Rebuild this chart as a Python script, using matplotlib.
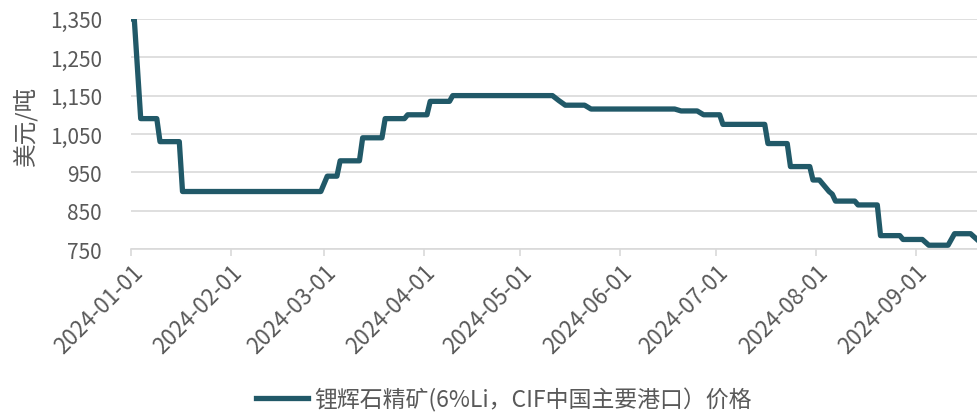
"""Spodumene concentrate price (CIF China) step chart."""

import matplotlib
matplotlib.use('Agg')
import matplotlib.pyplot as plt
import matplotlib.dates as mdates
import matplotlib.ticker as mticker
import pandas as pd

plt.rcParams['font.family'] = ['Noto Sans CJK SC', 'DejaVu Sans']

# Corner points of the price series (USD/t)
dates = [
    '2024-01-01', '2024-01-02', '2024-01-04', '2024-01-09', '2024-01-10',
    '2024-01-16', '2024-01-17', '2024-02-29', '2024-03-02', '2024-03-05',
    '2024-03-06', '2024-03-12', '2024-03-13', '2024-03-19', '2024-03-20',
    '2024-03-26', '2024-03-27', '2024-04-02', '2024-04-03', '2024-04-09',
    '2024-04-10', '2024-05-11', '2024-05-13', '2024-05-15', '2024-05-21',
    '2024-05-23', '2024-06-18', '2024-06-20', '2024-06-25', '2024-06-27',
    '2024-07-02', '2024-07-03', '2024-07-16', '2024-07-17', '2024-07-23',
    '2024-07-24', '2024-07-30', '2024-07-31', '2024-08-02', '2024-08-05',
    '2024-08-06', '2024-08-07', '2024-08-13', '2024-08-14', '2024-08-20',
    '2024-08-21', '2024-08-27', '2024-08-28', '2024-09-03', '2024-09-05',
    '2024-09-11', '2024-09-13', '2024-09-18', '2024-09-20',
]
prices = [
    1350, 1350, 1090, 1090, 1030,
    1030, 900, 900, 940, 940,
    980, 980, 1040, 1040, 1090,
    1090, 1100, 1100, 1135, 1135,
    1150, 1150, 1137, 1125, 1125,
    1115, 1115, 1110, 1110, 1100,
    1100, 1075, 1075, 1025, 1025,
    965, 965, 930, 930, 900,
    893, 875, 875, 865, 865,
    785, 785, 775, 775, 760,
    760, 790, 790, 775,
]
y_ticks = [750, 850, 950, 1050, 1150, 1250, 1350]
x_ticks = ['2024-01-01', '2024-02-01', '2024-03-01', '2024-04-01', '2024-05-01',
           '2024-06-01', '2024-07-01', '2024-08-01', '2024-09-01']

line_color = '#215968'
text_color = '#595959'
grid_color = '#d9d9d9'

fig = plt.figure(figsize=(9.78, 4.14), dpi=100)
ax = fig.add_axes([0.134, 0.396, 0.865, 0.556])

x = pd.to_datetime(dates)
ax.plot(x, prices, color=line_color, linewidth=3.8, solid_joinstyle='round',
        label='锂辉石精矿(6%Li，CIF中国主要港口）价格')

ax.set_xlim(pd.Timestamp('2024-01-01'), pd.Timestamp('2024-09-20'))
ax.set_ylim(750, 1350)
ax.set_yticks(y_ticks)
ax.yaxis.set_major_formatter(mticker.FuncFormatter(lambda v, p: f'{v:,.0f}'))
ax.set_xticks(pd.to_datetime(x_ticks))
ax.xaxis.set_major_formatter(mdates.DateFormatter('%Y-%m-%d'))

ax.grid(axis='y', color=grid_color, linewidth=1.2)
ax.set_axisbelow(True)
for s in ['top', 'right', 'left']:
    ax.spines[s].set_visible(False)
ax.spines['bottom'].set_color(grid_color)
ax.spines['bottom'].set_linewidth(1.2)

ax.tick_params(axis='y', length=0, labelsize=15, labelcolor=text_color, pad=21)
ax.tick_params(axis='x', length=5, width=1.2, color=grid_color, labelsize=16,
               labelcolor=text_color, pad=3)
for lbl in ax.get_xticklabels():
    lbl.set_rotation(45)
    lbl.set_ha('right')
    lbl.set_rotation_mode('anchor')

ax.set_ylabel('美元/吨', fontsize=17, color=text_color)
ax.yaxis.set_label_coords(-0.111, 0.54)

fig.legend(loc='lower center', bbox_to_anchor=(0.515, -0.045), frameon=False,
           fontsize=16.5, handlelength=2.3, handletextpad=0.25,
           labelcolor=text_color)

plt.savefig('out.png', dpi=100)
